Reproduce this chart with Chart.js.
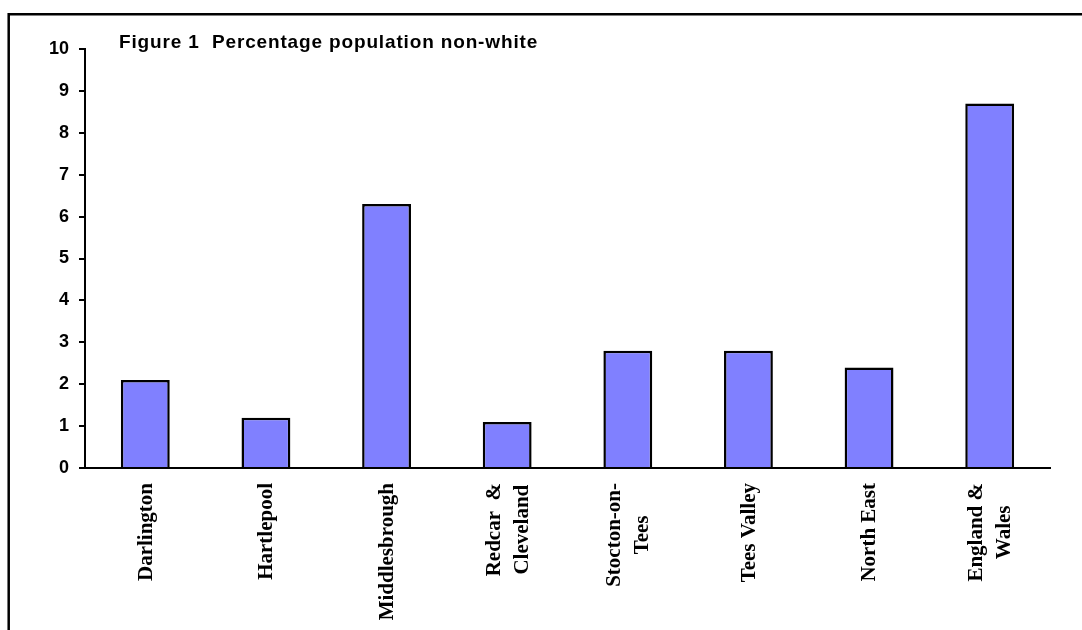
<!DOCTYPE html>
<html>
<head>
<meta charset="utf-8">
<script src="https://cdn.jsdelivr.net/npm/chart.js@4.4.0/dist/chart.umd.min.js"></script>
<style>
  html, body { margin: 0; padding: 0; background: #fff; }
  #wrap { width: 1082px; height: 630px; position: relative; }
</style>
</head>
<body>
<div id="wrap"><canvas id="c" width="1082" height="630"></canvas></div>
<script>
const titleText = 'Figure 1  Percentage population non-white';
const categories = [
  'Darlington',
  'Hartlepool',
  'Middlesbrough',
  ['Redcar  &', 'Cleveland'],
  ['Stocton-on-', 'Tees'],
  'Tees Valley',
  'North East',
  ['England &', 'Wales']
];
const values = [2.1, 1.2, 6.3, 1.1, 2.8, 2.8, 2.4, 8.7];
const yTicks = [0, 1, 2, 3, 4, 5, 6, 7, 8, 9, 10];

const framePlugin = {
  id: 'frame',
  afterDraw(chart) {
    const ctx = chart.ctx;
    const xs = chart.scales.x;
    ctx.save();
    ctx.strokeStyle = '#000';
    ctx.lineWidth = 2.5;
    ctx.beginPath();
    ctx.moveTo(8.7, 630);
    ctx.lineTo(8.7, 14.2);
    ctx.lineTo(1082, 14.2);
    ctx.stroke();
    // title
    ctx.fillStyle = '#000';
    ctx.font = 'bold 19px "Liberation Sans", Arial, sans-serif';
    ctx.letterSpacing = '0.85px';
    ctx.textAlign = 'left';
    ctx.textBaseline = 'alphabetic';
    ctx.fillText(titleText, chart.chartArea.left + 34, chart.chartArea.top - 1);
    ctx.letterSpacing = '0px';
    // category labels, rotated, lines centred within block, block top at axis
    ctx.font = 'bold 21px "Liberation Serif", "Times New Roman", serif';
    ctx.textBaseline = 'middle';
    ctx.textAlign = 'center';
    const lineH = 28;
    const top = chart.chartArea.bottom + 15;
    xs.ticks.forEach((t, i) => {
      const lab = chart.data.labels[i];
      const lines = Array.isArray(lab) ? lab : [lab];
      const maxW = Math.max(...lines.map(l => ctx.measureText(l).width));
      const x = xs.getPixelForTick(i);
      ctx.save();
      ctx.translate(x, top);
      ctx.rotate(-Math.PI / 2);
      lines.forEach((l, j) => {
        const off = (j - (lines.length - 1) / 2) * lineH;
        ctx.fillText(l, -maxW / 2, off + 1);
      });
      ctx.restore();
    });
    ctx.restore();
  }
};

new Chart(document.getElementById('c'), {
  type: 'bar',
  data: {
    labels: categories,
    datasets: [{
      data: values,
      backgroundColor: '#8080FF',
      borderColor: '#000000',
      borderWidth: 2.5,
      borderSkipped: 'start',
      categoryPercentage: 1.0,
      barPercentage: 0.405
    }]
  },
  options: {
    responsive: false,
    animation: false,
    devicePixelRatio: 1,
    layout: { padding: { top: 49, right: 32, left: 0, bottom: 0 } },
    plugins: {
      legend: { display: false },
      title: { display: false },
      tooltip: { enabled: false }
    },
    scales: {
      x: {
        grid: { display: false, drawTicks: false },
        border: { display: true, color: '#000', width: 2 },
        ticks: { display: false, autoSkip: false },
        afterFit(scale) { scale.height = 162; }
      },
      y: {
        min: 0,
        max: 10,
        afterBuildTicks(scale) { scale.ticks = yTicks.map(v => ({ value: v })); },
        grid: { display: true, drawOnChartArea: false, drawTicks: true, tickLength: 6, color: '#000', lineWidth: 2 },
        border: { display: true, color: '#000', width: 2 },
        ticks: {
          color: '#000',
          padding: 10,
          font: { family: '"Liberation Sans", Arial, sans-serif', size: 18, weight: 'bold' }
        },
        afterFit(scale) { scale.width = 85; }
      }
    }
  },
  plugins: [framePlugin]
});
</script>
</body>
</html>
